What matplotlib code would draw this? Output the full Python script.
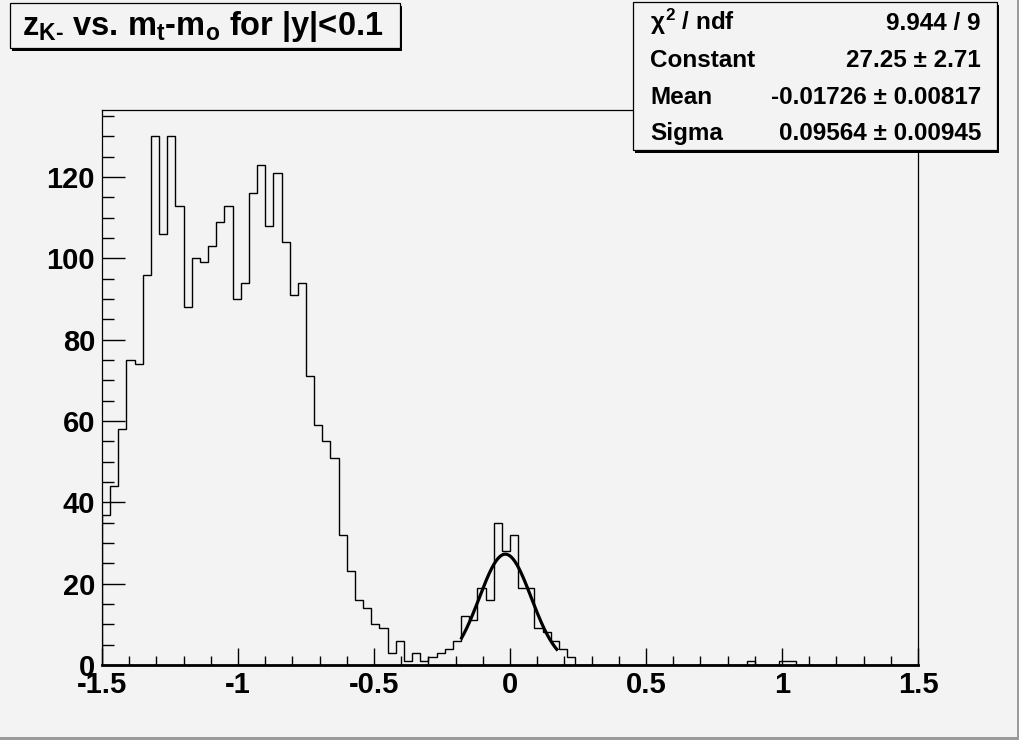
import numpy as np
import matplotlib
matplotlib.use("Agg")
import matplotlib.pyplot as plt
from matplotlib.patches import Rectangle
from matplotlib.ticker import MultipleLocator, FormatStrFormatter

plt.rcParams['font.family'] = ['Liberation Sans', 'DejaVu Sans']
plt.rcParams['font.weight'] = 'bold'
plt.rcParams['axes.unicode_minus'] = False
plt.rcParams['mathtext.fontset'] = 'custom'
plt.rcParams['mathtext.rm'] = 'Liberation Sans:bold'
plt.rcParams['mathtext.it'] = 'Liberation Sans:bold'
plt.rcParams['mathtext.bf'] = 'Liberation Sans:bold'

# ---- data ----
x_min, x_max, n_bins = -1.5, 1.5, 100
counts = [37, 44, 58, 75, 74, 96, 130, 106, 130, 113,
          88, 100, 99, 103, 109, 113, 90, 94, 116, 123,
          108, 121, 104, 91, 94, 71, 59, 55, 51, 32,
          23, 16, 14, 10, 9, 3, 6, 1, 3, 1,
          2, 3, 4, 6, 12, 11, 19, 16, 35, 28,
          32, 19, 19, 9, 8, 6, 4, 2, 0, 0,
          0, 0, 0, 0, 0, 0, 0, 0, 0, 0,
          0, 0, 0, 0, 0, 0, 0, 0, 0, 1,
          0, 0, 0, 1, 1, 0, 0, 0, 0, 0,
          0, 0, 0, 0, 0, 0, 0, 0, 0, 0]
fit_constant = 27.25
fit_mean = -0.01726
fit_sigma = 0.09564
fit_range = (-0.178, 0.172)
title_text = "z$_{\\mathrm{K}\\text{-}}$ vs. m$_{\\mathrm{t}}$-m$_{\\mathrm{o}}$ for |y|<0.1"
stat_names = ["$\\chi^{2}$ / ndf", "Constant", "Mean", "Sigma"]
stat_values = ["9.944 / 9", "27.25 \u00b1 2.71", "-0.01726 \u00b1 0.00817", "0.09564 \u00b1 0.00945"]

bg = '#f3f3f3'
fig = plt.figure(figsize=(10.2, 7.4), dpi=100, facecolor=bg)
ax = fig.add_axes([0.1, 0.1014, 0.8, 0.75])
ax.set_facecolor(bg)

edges = np.linspace(x_min, x_max, n_bins + 1)
ax.stairs(counts, edges, color='black', lw=1.0, baseline=0)

xf = np.linspace(fit_range[0], fit_range[1], 300)
yf = fit_constant * np.exp(-0.5 * ((xf - fit_mean) / fit_sigma) ** 2)
ax.plot(xf, yf, color='black', lw=2.3)

ax.set_xlim(x_min, x_max)
ax.set_ylim(0, 136.5)

ax.xaxis.set_major_locator(MultipleLocator(0.5))
ax.xaxis.set_minor_locator(MultipleLocator(0.1))
ax.xaxis.set_major_formatter(FormatStrFormatter('%g'))
ax.yaxis.set_major_locator(MultipleLocator(20))
ax.yaxis.set_minor_locator(MultipleLocator(5))
ax.tick_params(axis='x', which='major', direction='in', length=12.5, width=1.0, labelsize=21, pad=4)
ax.tick_params(axis='x', which='minor', direction='in', length=6.5, width=1.0)
ax.tick_params(axis='y', which='major', direction='in', length=16.5, width=1.0, labelsize=21, pad=5)
ax.tick_params(axis='y', which='minor', direction='in', length=8.5, width=1.0)
for lab in ax.get_xticklabels() + ax.get_yticklabels():
    lab.set_fontweight('bold')
for s in ['top', 'right', 'left']:
    ax.spines[s].set_linewidth(0.9)
ax.spines['bottom'].set_linewidth(2.0)

# overlay in pixel coordinates
ov = fig.add_axes([0, 0, 1, 1], zorder=10)
ov.set_xlim(0, 1020)
ov.set_ylim(740, 0)
ov.axis('off')

def pbox(x0, y0, x1, y1):
    ov.add_patch(Rectangle((x0 + 2.5, y0 + 2.5), x1 - x0, y1 - y0, facecolor='black', edgecolor='none'))
    ov.add_patch(Rectangle((x0, y0), x1 - x0, y1 - y0, facecolor=bg, edgecolor='black', lw=0.9))

pbox(10, 3, 400, 48)
ov.text(22, 35, title_text, fontsize=23.5, fontweight='bold', ha='left', va='baseline')

pbox(633, 2, 997, 150)
baselines = [29.5, 67, 104, 140]
for name, val, yb in zip(stat_names, stat_values, baselines):
    ov.text(650, yb, name, fontsize=17.5, fontweight='bold', ha='left', va='baseline')
    ov.text(981, yb, val, fontsize=17.5, fontweight='bold', ha='right', va='baseline')

# canvas bevel
ov.add_patch(Rectangle((0, 737), 1020, 3, facecolor='#9a9a9a', edgecolor='none'))
ov.add_patch(Rectangle((1017, 0), 3, 740, facecolor='#9a9a9a', edgecolor='none'))

fig.savefig('out.png', dpi=100, facecolor=bg)
